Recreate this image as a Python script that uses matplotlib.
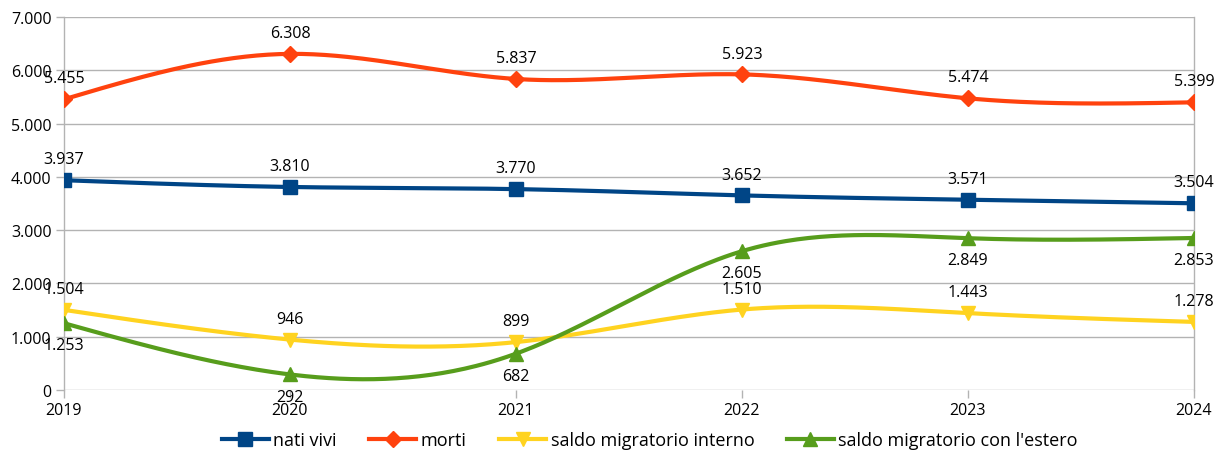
import numpy as np
import matplotlib
matplotlib.use("Agg")
import matplotlib.pyplot as plt
from matplotlib.ticker import FuncFormatter, MultipleLocator

years = [2019, 2020, 2021, 2022, 2023, 2024]
nati_vivi = [3937, 3810, 3770, 3652, 3571, 3504]
morti = [5455, 6308, 5837, 5923, 5474, 5399]
saldo_interno = [1504, 946, 899, 1510, 1443, 1278]
saldo_estero = [1253, 292, 682, 2605, 2849, 2853]

series = [
    ("nati vivi", nati_vivi, "#004586", "s", "above"),
    ("morti", morti, "#ff420e", "D", "above"),
    ("saldo migratorio interno", saldo_interno, "#ffd320", "v", "above"),
    ("saldo migratorio con l'estero", saldo_estero, "#579d1c", "^", "below"),
]

plt.rcParams['font.family'] = ['Open Sans', 'DejaVu Sans']


def natural_spline(x, y, n=300):
    x = np.asarray(x, float)
    y = np.asarray(y, float)
    k = len(x)
    h = np.diff(x)
    A = np.zeros((k, k))
    b = np.zeros(k)
    A[0, 0] = 1
    A[-1, -1] = 1
    for i in range(1, k - 1):
        A[i, i - 1] = h[i - 1]
        A[i, i] = 2 * (h[i - 1] + h[i])
        A[i, i + 1] = h[i]
        b[i] = 6 * ((y[i + 1] - y[i]) / h[i] - (y[i] - y[i - 1]) / h[i - 1])
    M = np.linalg.solve(A, b)
    xs = np.linspace(x[0], x[-1], n)
    ys = np.empty_like(xs)
    for j, xv in enumerate(xs):
        i = min(np.searchsorted(x, xv, side='right') - 1, k - 2)
        t1 = x[i + 1] - xv
        t0 = xv - x[i]
        ys[j] = (M[i] * t1 ** 3 / (6 * h[i]) + M[i + 1] * t0 ** 3 / (6 * h[i])
                 + (y[i] / h[i] - M[i] * h[i] / 6) * t1
                 + (y[i + 1] / h[i] - M[i + 1] * h[i] / 6) * t0)
    return xs, ys


def fmt(v, pos=None):
    return f"{int(round(v)):,}".replace(",", ".")


fig = plt.figure(figsize=(12.25, 4.56), dpi=100)
ax = fig.add_axes([64 / 1225, 1 - 391 / 456, (1194 - 64) / 1225, (391 - 18) / 456])

for name, vals, col, mk, pos in series:
    xs, ys = natural_spline(years, vals)
    ms = 10 if mk != 'D' else 8
    ax.plot(xs, ys, color=col, lw=3, zorder=3, solid_capstyle='round')
    ax.plot(years, vals, ls='none', marker=mk, color=col, markersize=ms, zorder=4)
    ax.plot([], [], color=col, lw=3, marker=mk, markersize=ms, label=name)
    for xv, yv in zip(years, vals):
        dy = 15 if pos == "above" else -16
        ax.annotate(fmt(yv), (xv, yv), xytext=(0, dy), textcoords='offset points',
                    ha='center', va='center', fontsize=11.5, color='#000000', zorder=5)

ax.set_xlim(2019, 2024)
ax.set_ylim(0, 7000)
ax.yaxis.set_major_locator(MultipleLocator(1000))
ax.yaxis.set_major_formatter(FuncFormatter(fmt))
ax.set_xticks(years)
ax.set_xticklabels([str(y) for y in years])
ax.grid(axis='y', color='#b3b3b3', lw=1)
ax.set_axisbelow(True)
for s in ['top', 'bottom']:
    ax.spines[s].set_visible(False)
for s in ['left', 'right']:
    ax.spines[s].set_color('#b3b3b3')
    ax.spines[s].set_linewidth(1)
ax.tick_params(axis='both', colors='#b3b3b3', labelcolor='#000000', labelsize=11.5, length=6, width=1)
ax.tick_params(axis='x', pad=3)
ax.tick_params(axis='y', pad=3)

leg = fig.legend(loc='center', bbox_to_anchor=(650 / 1225, 1 - 441 / 456), ncol=4, frameon=False,
                 fontsize=13, handlelength=2.6, columnspacing=1.8, handletextpad=0.25)

fig.savefig("out.png", dpi=100)
